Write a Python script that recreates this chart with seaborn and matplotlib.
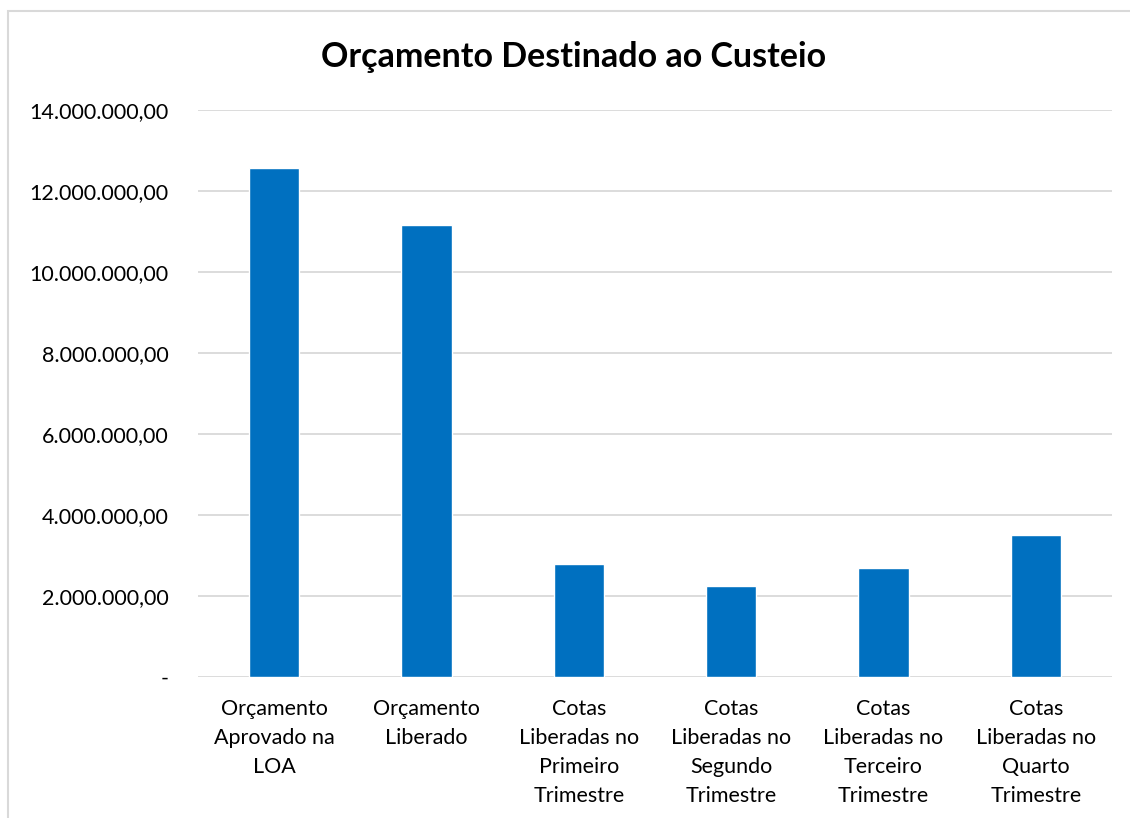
import numpy as np
import pandas as pd
import matplotlib
matplotlib.use('Agg')
import matplotlib.pyplot as plt
import matplotlib.ticker as mticker
from matplotlib.patches import Rectangle
import seaborn as sns

#%% Data
categories = ['Orçamento\nAprovado na\nLOA', 'Orçamento\nLiberado',
              'Cotas\nLiberadas no\nPrimeiro\nTrimestre', 'Cotas\nLiberadas no\nSegundo\nTrimestre',
              'Cotas\nLiberadas no\nTerceiro\nTrimestre', 'Cotas\nLiberadas no\nQuarto\nTrimestre']
valores = [12580000, 11170000, 2790000, 2250000, 2680000, 3500000]
yticks = [0, 2e6, 4e6, 6e6, 8e6, 10e6, 12e6, 14e6]

df = pd.DataFrame({'categoria': categories, 'valor': valores})

#%% Plot
sns.set_style('white')
plt.rcParams['font.family'] = ['Lato', 'DejaVu Sans']
plt.rcParams['text.color'] = 'black'
plt.rcParams['xtick.color'] = 'black'
plt.rcParams['ytick.color'] = 'black'

fig = plt.figure(figsize=(11.3, 8.18), dpi=100)
fig.patches.append(Rectangle((8/1130, -0.1), 1.2, 1 - 11/818 + 0.1, transform=fig.transFigure,
                             fill=False, edgecolor='#d9d9d9', linewidth=1.5))
ax = fig.add_axes([198/1130, 1 - 677/818, (1112 - 198)/1130, (677 - 110)/818])

sns.barplot(data=df, x='categoria', y='valor', color='#0070C0', width=0.33,
            saturation=1, ax=ax, zorder=3)

def fmt(v, pos):
    if v == 0:
        return '-'
    return f'{v:,.2f}'.replace(',', 'X').replace('.', ',').replace('X', '.')

ax.set_ylim(0, 14e6)
ax.set_xlim(-0.5, 5.5)
ax.set_yticks(yticks)
ax.yaxis.set_major_formatter(mticker.FuncFormatter(fmt))
ax.grid(axis='y', color='#d9d9d9', linewidth=1.3, zorder=0)
ax.set_axisbelow(True)
for s in ax.spines.values():
    s.set_visible(False)
ax.tick_params(axis='y', length=0, pad=21, labelsize=15.5, labelcolor='black')
ax.tick_params(axis='x', length=0, pad=16, labelsize=15.5, labelcolor='black')
for lab in ax.get_xticklabels():
    lab.set_linespacing(1.55)
ax.set_xlabel('')
ax.set_ylabel('')
fig.text(574/1130, 1 - 57/818, 'Orçamento Destinado ao Custeio', ha='center', va='center',
         fontsize=24.5, fontweight='bold', color='black')

fig.savefig('out.png', dpi=100)
